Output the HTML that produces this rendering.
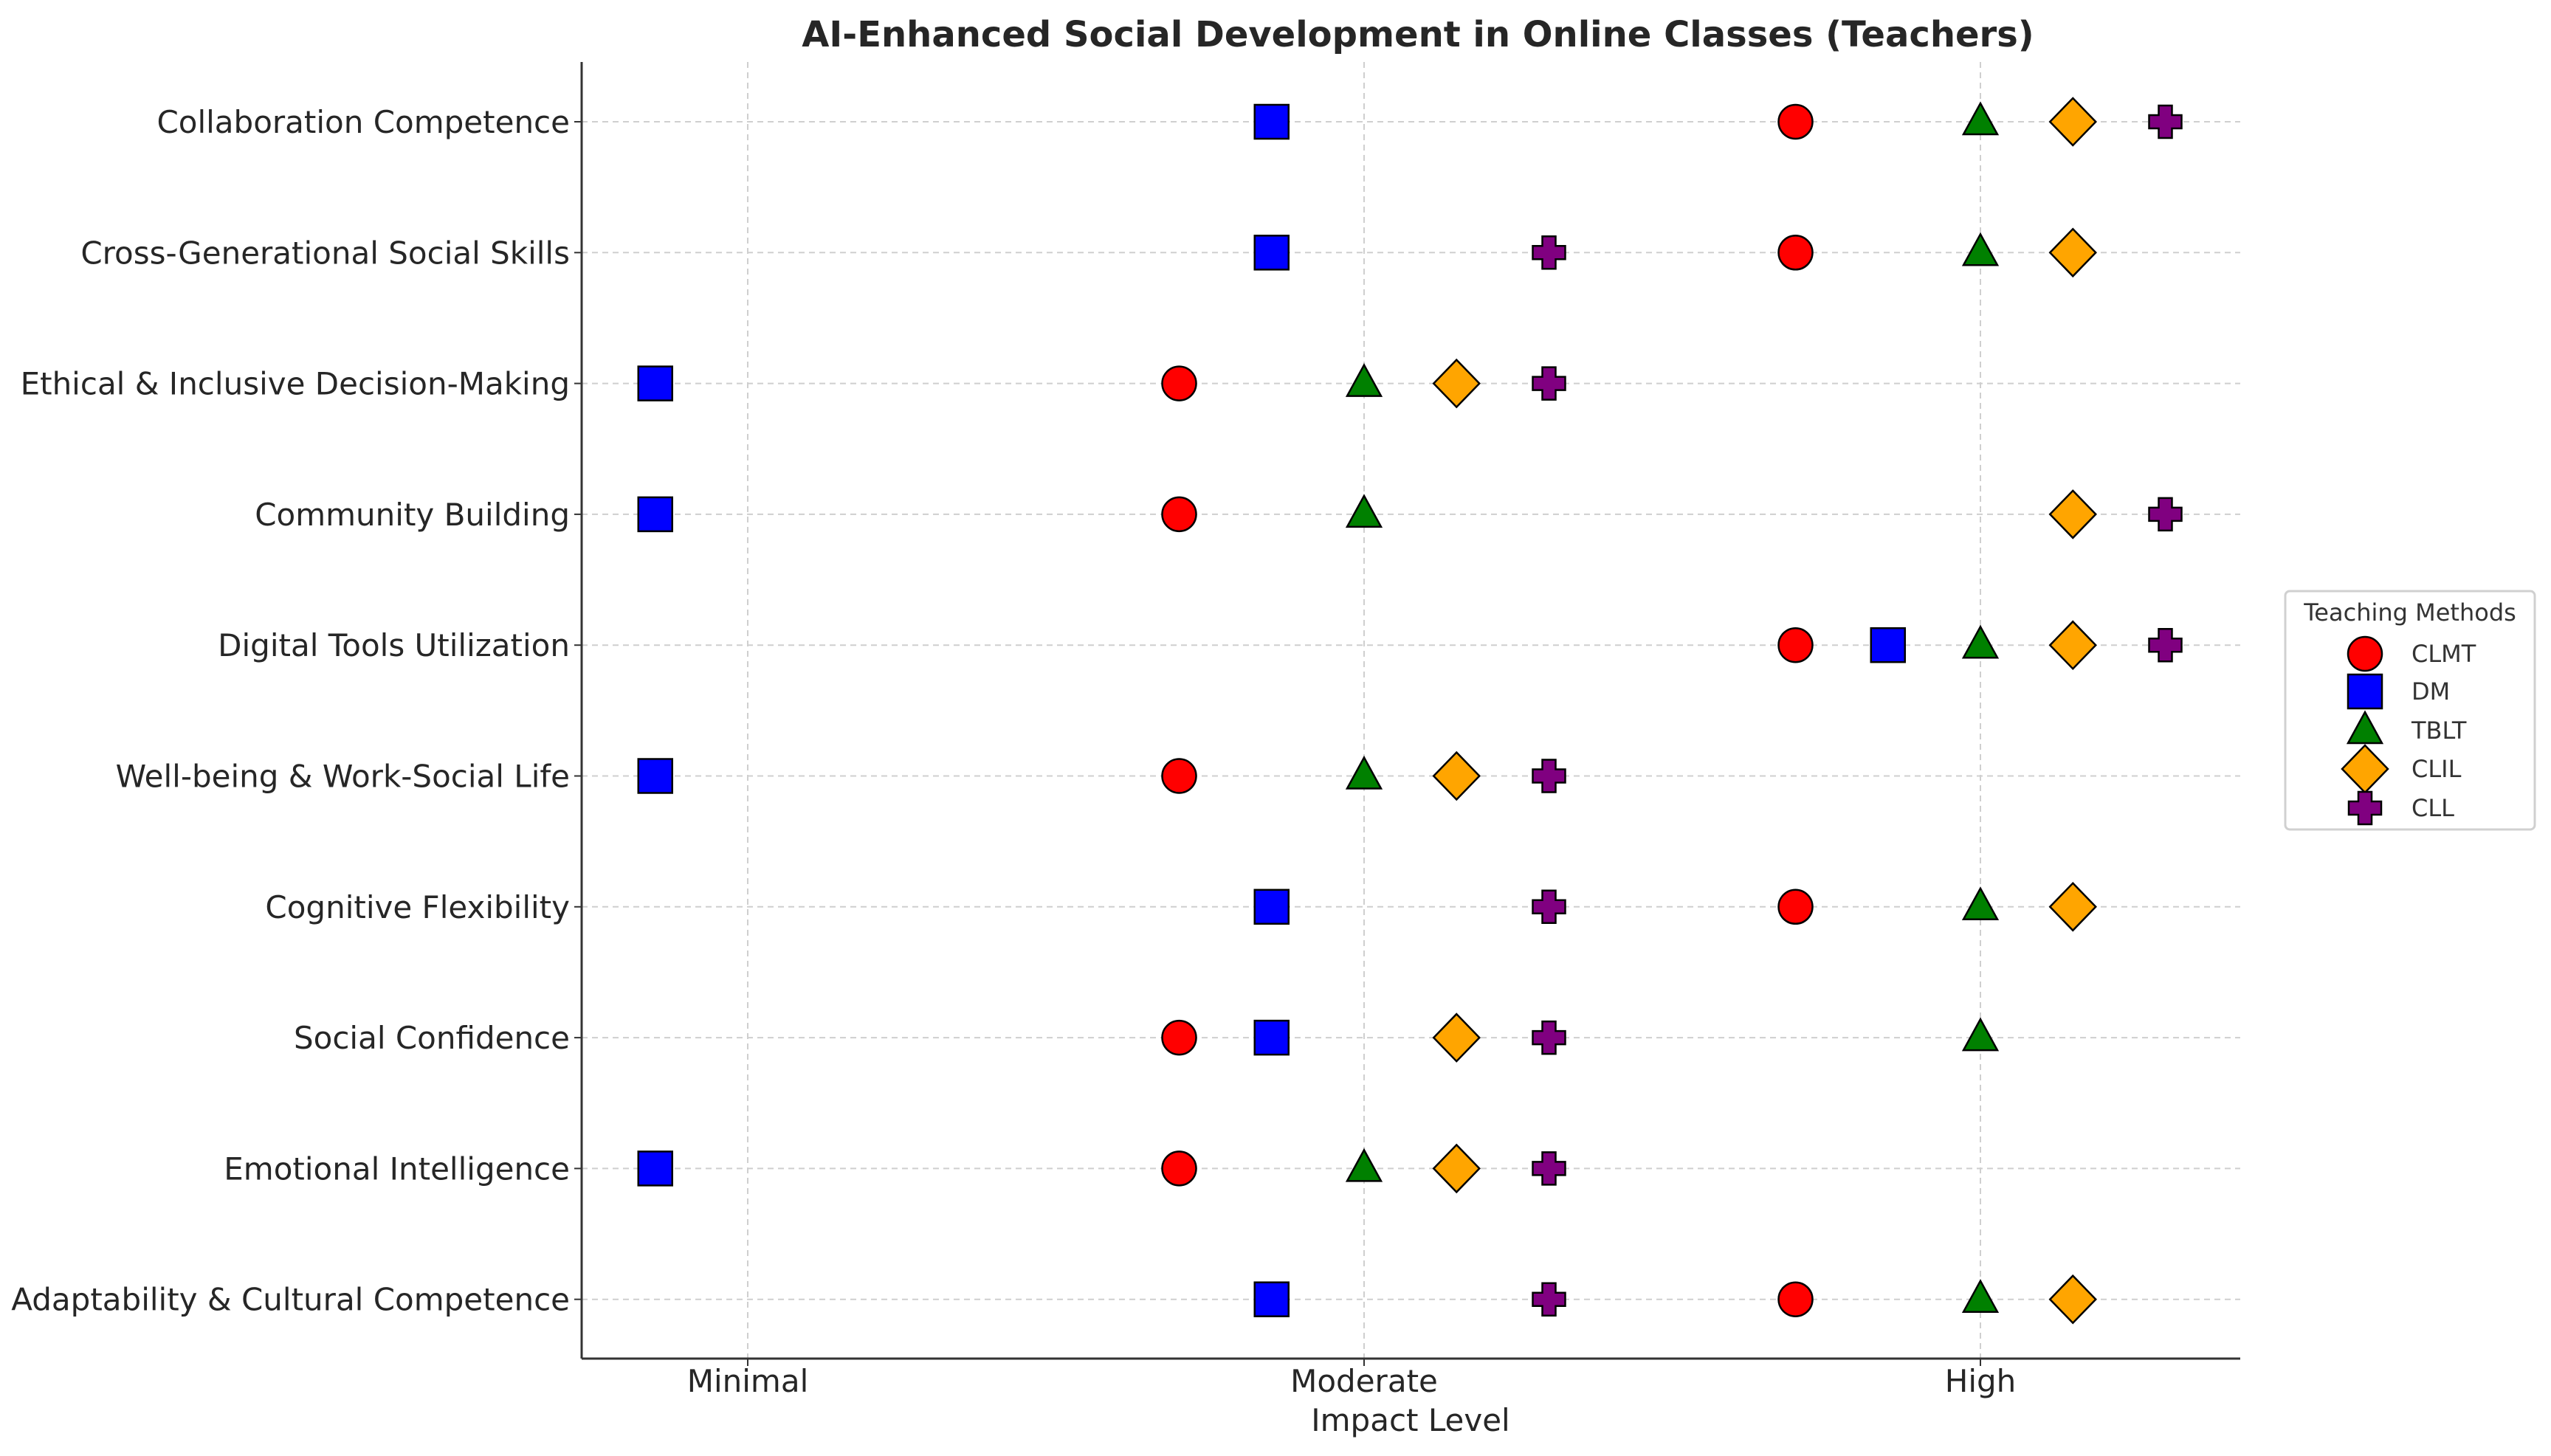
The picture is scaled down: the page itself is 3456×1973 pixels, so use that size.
<!DOCTYPE html>
<html><head><meta charset="utf-8"><style>
html,body{margin:0;padding:0;background:#fff;}
svg{display:block;font-family:"DejaVu Sans","Liberation Sans",sans-serif;}
</style></head><body>
<svg id="chart" width="3456" height="1973" viewBox="0 0 3456 1973">
<text x="1921" y="63" text-anchor="middle" font-size="48" font-weight="bold" fill="#262626">AI-Enhanced Social Development in Online Classes (Teachers)</text>
<g id="grid"></g><g id="axes"></g><g id="marks"></g><g id="legend"></g>
</svg>
<script>
const categories = ["Collaboration Competence","Cross-Generational Social Skills","Ethical & Inclusive Decision-Making","Community Building","Digital Tools Utilization","Well-being & Work-Social Life","Cognitive Flexibility","Social Confidence","Emotional Intelligence","Adaptability & Cultural Competence"];
const tickLabels = ["Minimal","Moderate","High"];
const seriesNames = ["CLMT","DM","TBLT","CLIL","CLL"];
const clmt = [1.7,1.7,0.7,0.7,1.7,0.7,1.7,0.7,0.7,1.7];
const dm   = [0.85,0.85,-0.15,-0.15,1.85,-0.15,0.85,0.85,-0.15,0.85];
const tblt = [2,2,1,1,2,1,2,2,1,2];
const clil = [2.15,2.15,1.15,2.15,2.15,1.15,2.15,1.15,1.15,2.15];
const cll  = [2.3,1.3,1.3,2.3,2.3,1.3,1.3,1.3,1.3,1.3];

const NS="http://www.w3.org/2000/svg";
const X0=1013, XU=835, Y0=165, YS=177.3, AX=788, AXR=3035, AT=84, AB=1841;
const xs=v=>X0+v*XU, ys=i=>Y0+i*YS;
function mk(tag,attrs,parent){const e=document.createElementNS(NS,tag);for(const k in attrs)e.setAttribute(k,attrs[k]);parent.appendChild(e);return e;}
const grid=document.getElementById('grid'),axes=document.getElementById('axes'),marks=document.getElementById('marks'),legend=document.getElementById('legend');

tickLabels.forEach((t,i)=>{
  const g=mk('line',{x1:xs(i),x2:xs(i),y1:AT,y2:AB,stroke:'#cfcfcf','stroke-width':2,'stroke-dasharray':'8,6'},grid);
  
  
  const tk=mk('line',{x1:xs(i),x2:xs(i),y1:AB,y2:AB+10,stroke:'#333','stroke-width':2},axes);
  
  
  const tx=mk('text',{x:xs(i),y:1886,'text-anchor':'middle','font-size':42,fill:'#262626'},axes);
  tx.textContent=t;
  
  
});
categories.forEach((c,i)=>{
  const g=mk('line',{x1:AX,x2:AXR,y1:ys(i),y2:ys(i),stroke:'#cfcfcf','stroke-width':2,'stroke-dasharray':'8,6'},grid);
  
  
  const tk=mk('line',{x1:AX-10,x2:AX,y1:ys(i),y2:ys(i),stroke:'#333','stroke-width':2},axes);
  
  
  const tx=mk('text',{x:772,y:ys(i)+15,'text-anchor':'end','font-size':42,fill:'#262626'},axes);
  tx.textContent=c;
  
  
});
const sp1=mk('line',{x1:AX,x2:AX,y1:AT,y2:AB,stroke:'#333','stroke-width':3},axes);


const sp2=mk('line',{x1:AX,x2:AXR,y1:AB,y2:AB,stroke:'#333','stroke-width':3},axes);


const xt=mk('text',{x:1911,y:1939,'text-anchor':'middle','font-size':42,fill:'#262626'},axes);
xt.textContent='Impact Level';



function shape(kind,cx,cy,parent){
  const st={stroke:'#000','stroke-width':2.5};
  if(kind===0) return mk('circle',Object.assign({cx,cy,r:23,fill:'#ff0000'},st),parent);
  if(kind===1) return mk('rect',Object.assign({x:cx-23,y:cy-23,width:46,height:46,fill:'#0000ff'},st),parent);
  if(kind===2) return mk('polygon',Object.assign({points:`${cx},${cy-25} ${cx+23},${cy+17} ${cx-23},${cy+17}`,fill:'#008000'},st),parent);
  if(kind===3) return mk('polygon',Object.assign({points:`${cx},${cy-32} ${cx+31},${cy} ${cx},${cy+32} ${cx-31},${cy}`,fill:'#ffa500'},st),parent);
  const a=9,b=22;
  return mk('polygon',Object.assign({points:`${cx-a},${cy-b} ${cx+a},${cy-b} ${cx+a},${cy-a} ${cx+b},${cy-a} ${cx+b},${cy+a} ${cx+a},${cy+a} ${cx+a},${cy+b} ${cx-a},${cy+b} ${cx-a},${cy+a} ${cx-b},${cy+a} ${cx-b},${cy-a} ${cx-a},${cy-a}`,fill:'#800080'},st),parent);
}
const series=[clmt,dm,tblt,clil,cll];
series.forEach((vals,s)=>{
  vals.forEach((v,i)=>{
    const m=shape(s,xs(v),ys(i),marks);
    
    
  });
});
const box=mk('rect',{x:3096,y:801,width:338,height:323,rx:6,fill:'#fff',stroke:'#d0d0d0','stroke-width':3},legend);


const lt=mk('text',{x:3265,y:841,'text-anchor':'middle','font-size':32,fill:'#333'},legend);
lt.textContent='Teaching Methods';


const ly=[886,937,990,1042,1095];
seriesNames.forEach((n,s)=>{
  const m=shape(s,3204,ly[s],legend);
  
  
  const t=mk('text',{x:3267,y:ly[s]+11,'font-size':32,fill:'#333'},legend);
  t.textContent=n;
  
  
});
</script>
</body></html>
